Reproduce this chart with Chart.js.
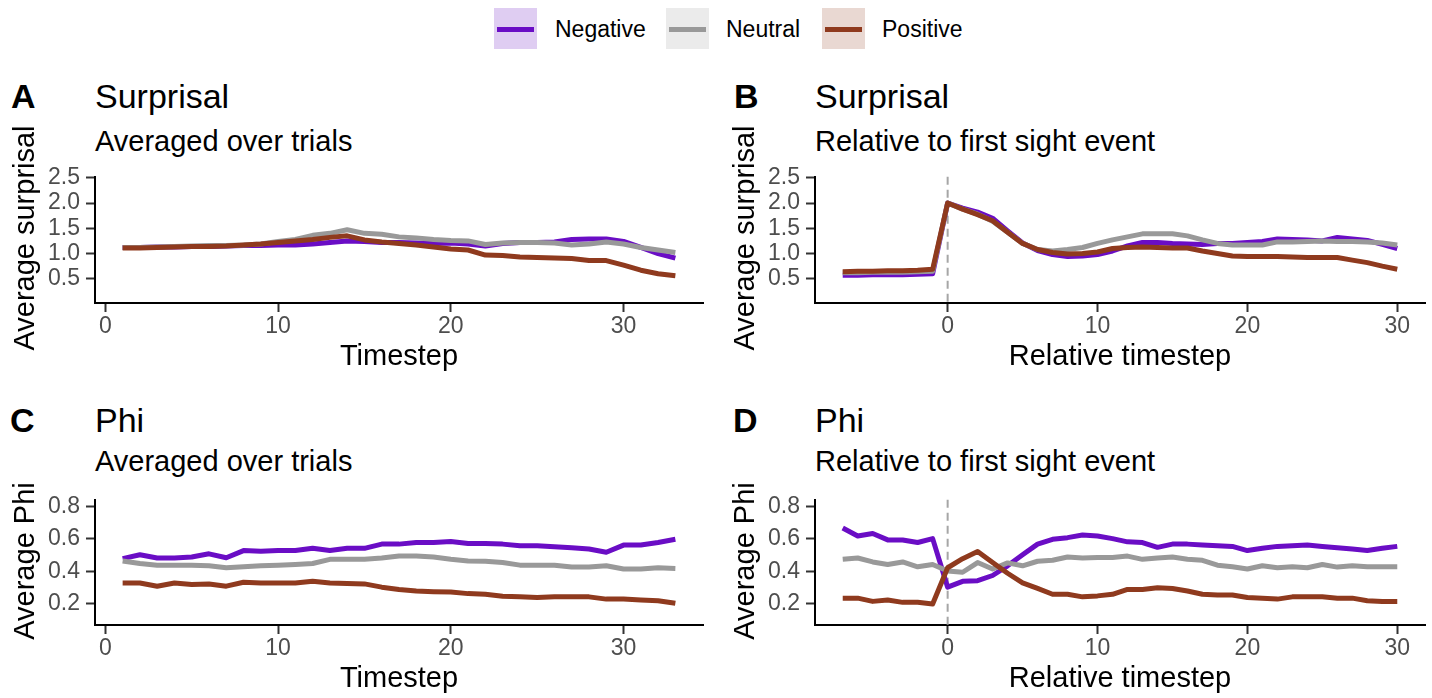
<!DOCTYPE html>
<html>
<head>
<meta charset="utf-8">
<script src="https://cdn.jsdelivr.net/npm/chart.js@4"></script>
<style>
  body { margin: 0; background: #fff; font-family: 'Liberation Sans', Arial, sans-serif; }
  #page { position: relative; width: 1432px; height: 698px; overflow: hidden; }
  .txt { position: absolute; white-space: nowrap; color: #000; }
  .tag { font-size: 34px; font-weight: bold; line-height: 34px; }
  .title { font-size: 34px; line-height: 34px; }
  .sub { font-size: 29px; line-height: 29px; }
  .lab { font-size: 23px; line-height: 23px; }
  .ytitle { font-size: 29px; line-height: 29px; transform: translate(-50%, -50%) rotate(-90deg); }
  .key { position: absolute; top: 8px; width: 43px; height: 41px; }
  .key span { position: absolute; left: 3px; right: 3px; top: 19px; height: 5px; }
  canvas { position: absolute; }
</style>
</head>
<body>
<div id="page">
  <!-- shared legend -->
  <div class="key" style="left:494px;background:#dfcdf2"><span style="background:#6a0dc5"></span></div>
  <div class="txt lab" style="left:555px;top:18px">Negative</div>
  <div class="key" style="left:666px;background:#ebebeb"><span style="background:#999999"></span></div>
  <div class="txt lab" style="left:726px;top:18px">Neutral</div>
  <div class="key" style="left:822px;background:#e9d8d2"><span style="background:#8f3a1e"></span></div>
  <div class="txt lab" style="left:882px;top:18px">Positive</div>

  <div class="txt tag" style="left:11px;top:79px">A</div>
  <div class="txt title" style="left:95px;top:79px">Surprisal</div>
  <div class="txt sub" style="left:95px;top:127px">Averaged over trials</div>

  <div class="txt tag" style="left:734px;top:79px">B</div>
  <div class="txt title" style="left:815px;top:79px">Surprisal</div>
  <div class="txt sub" style="left:815px;top:127px">Relative to first sight event</div>

  <div class="txt tag" style="left:10px;top:403px">C</div>
  <div class="txt title" style="left:95px;top:403px">Phi</div>
  <div class="txt sub" style="left:95px;top:447px">Averaged over trials</div>

  <div class="txt tag" style="left:733px;top:403px">D</div>
  <div class="txt title" style="left:815px;top:403px">Phi</div>
  <div class="txt sub" style="left:815px;top:447px">Relative to first sight event</div>

  <canvas id="chartA" width="716" height="218" style="left:0;top:157px"></canvas>
  <canvas id="chartB" width="712" height="218" style="left:720px;top:157px"></canvas>
  <canvas id="chartC" width="716" height="217" style="left:0;top:480px"></canvas>
  <canvas id="chartD" width="712" height="217" style="left:720px;top:480px"></canvas>

  <!-- y axis titles sit over the canvases so they are not cut to the plot height -->
  <div class="txt ytitle" style="left:24px;top:238px">Average surprisal</div>
  <div class="txt ytitle" style="left:744px;top:238px">Average surprisal</div>
  <div class="txt ytitle" style="left:24px;top:561px">Average Phi</div>
  <div class="txt ytitle" style="left:744px;top:561px">Average Phi</div>
</div>

<script>
'use strict';

// x values
let timesteps = [1, 2, 3, 4, 5, 6, 7, 8, 9, 10, 11, 12, 13, 14, 15, 16, 17, 18, 19, 20, 21, 22, 23, 24, 25, 26, 27, 28, 29, 30, 31, 32, 33];
let relTimesteps = [-7, -6, -5, -4, -3, -2, -1, 0, 1, 2, 3, 4, 5, 6, 7, 8, 9, 10, 11, 12, 13, 14, 15, 16, 17, 18, 19, 20, 21, 22, 23, 24, 25, 26, 27, 28, 29, 30];

// tick labels
let xTicks = [0, 10, 20, 30];
let surprisalTicks = [0.5, 1.0, 1.5, 2.0, 2.5];
let phiTicks = [0.2, 0.4, 0.6, 0.8];
let firstSight = 0;

// A - surprisal averaged over trials
let surpNeg = [1.12, 1.12, 1.13, 1.13, 1.14, 1.14, 1.15, 1.16, 1.16, 1.17, 1.17, 1.19, 1.22, 1.25, 1.24, 1.22, 1.22, 1.21, 1.20, 1.21, 1.19, 1.15, 1.20, 1.22, 1.22, 1.23, 1.28, 1.29, 1.29, 1.24, 1.12, 1.00, 0.91];
let surpNeu = [1.12, 1.12, 1.13, 1.14, 1.15, 1.16, 1.16, 1.17, 1.19, 1.24, 1.28, 1.36, 1.40, 1.47, 1.40, 1.38, 1.33, 1.31, 1.28, 1.26, 1.25, 1.18, 1.21, 1.22, 1.22, 1.21, 1.17, 1.19, 1.23, 1.19, 1.12, 1.07, 1.02];
let surpPos = [1.11, 1.11, 1.12, 1.13, 1.14, 1.14, 1.15, 1.17, 1.19, 1.22, 1.25, 1.28, 1.32, 1.35, 1.27, 1.23, 1.20, 1.17, 1.13, 1.09, 1.07, 0.97, 0.96, 0.93, 0.92, 0.91, 0.90, 0.86, 0.86, 0.77, 0.67, 0.60, 0.56];

// B - surprisal relative to first sight
let relSurpNeg = [0.57, 0.57, 0.58, 0.58, 0.58, 0.59, 0.60, 2.00, 1.90, 1.82, 1.70, 1.45, 1.21, 1.06, 0.98, 0.94, 0.95, 0.98, 1.05, 1.15, 1.22, 1.22, 1.20, 1.19, 1.18, 1.20, 1.20, 1.22, 1.24, 1.29, 1.28, 1.27, 1.25, 1.32, 1.29, 1.26, 1.18, 1.10];
let relSurpNeu = [0.62, 0.62, 0.63, 0.63, 0.63, 0.64, 0.65, 2.00, 1.88, 1.78, 1.64, 1.42, 1.20, 1.08, 1.05, 1.08, 1.12, 1.20, 1.27, 1.33, 1.39, 1.39, 1.39, 1.35, 1.27, 1.20, 1.17, 1.17, 1.17, 1.23, 1.23, 1.24, 1.25, 1.24, 1.24, 1.23, 1.21, 1.17];
let relSurpPos = [0.64, 0.65, 0.65, 0.66, 0.66, 0.67, 0.69, 2.00, 1.88, 1.77, 1.65, 1.42, 1.20, 1.08, 1.02, 0.99, 1.00, 1.03, 1.10, 1.12, 1.13, 1.12, 1.11, 1.11, 1.05, 1.00, 0.95, 0.94, 0.94, 0.94, 0.93, 0.92, 0.92, 0.92, 0.87, 0.82, 0.75, 0.69];

// C - phi averaged over trials
let phiNeg = [0.478, 0.502, 0.482, 0.482, 0.488, 0.508, 0.484, 0.528, 0.524, 0.528, 0.528, 0.542, 0.528, 0.542, 0.542, 0.568, 0.568, 0.578, 0.578, 0.584, 0.572, 0.572, 0.568, 0.558, 0.558, 0.552, 0.545, 0.538, 0.518, 0.562, 0.562, 0.578, 0.598];
let phiNeu = [0.464, 0.448, 0.438, 0.438, 0.438, 0.434, 0.422, 0.428, 0.434, 0.438, 0.442, 0.448, 0.474, 0.474, 0.474, 0.482, 0.494, 0.494, 0.488, 0.474, 0.464, 0.462, 0.454, 0.438, 0.438, 0.438, 0.426, 0.426, 0.434, 0.414, 0.414, 0.422, 0.418];
let phiPos = [0.328, 0.328, 0.308, 0.328, 0.318, 0.322, 0.308, 0.332, 0.328, 0.328, 0.328, 0.338, 0.328, 0.324, 0.322, 0.302, 0.288, 0.278, 0.274, 0.272, 0.262, 0.258, 0.246, 0.242, 0.238, 0.242, 0.242, 0.242, 0.228, 0.228, 0.222, 0.218, 0.202];

// D - phi relative to first sight
let relPhiNeg = [0.668, 0.618, 0.634, 0.594, 0.594, 0.578, 0.602, 0.302, 0.338, 0.342, 0.374, 0.434, 0.502, 0.568, 0.598, 0.608, 0.624, 0.618, 0.602, 0.582, 0.578, 0.548, 0.568, 0.568, 0.562, 0.558, 0.554, 0.528, 0.542, 0.554, 0.558, 0.562, 0.554, 0.546, 0.538, 0.528, 0.542, 0.554];
let relPhiNeu = [0.474, 0.482, 0.458, 0.442, 0.458, 0.428, 0.442, 0.402, 0.394, 0.454, 0.414, 0.452, 0.434, 0.462, 0.468, 0.488, 0.482, 0.486, 0.486, 0.494, 0.474, 0.482, 0.488, 0.474, 0.468, 0.438, 0.428, 0.414, 0.434, 0.422, 0.428, 0.422, 0.442, 0.426, 0.434, 0.428, 0.428, 0.428];
let relPhiPos = [0.234, 0.234, 0.214, 0.222, 0.208, 0.208, 0.198, 0.422, 0.478, 0.522, 0.454, 0.388, 0.328, 0.294, 0.258, 0.258, 0.242, 0.248, 0.258, 0.288, 0.288, 0.298, 0.294, 0.278, 0.258, 0.254, 0.254, 0.238, 0.234, 0.228, 0.242, 0.242, 0.242, 0.234, 0.234, 0.218, 0.214, 0.214];

let colNeg = '#6a0dc5';
let colNeu = '#999999';
let colPos = '#8f3a1e';

Chart.defaults.font.family = "'Liberation Sans', Arial, sans-serif";

// dashed line at the first sight event
const eventLine = {
  id: 'eventLine',
  beforeDatasetsDraw(chart, args, opts) {
    if (!opts.show) return;
    let ctx = chart.ctx;
    let area = chart.chartArea;
    let x = chart.scales.x.getPixelForValue(firstSight);
    ctx.save();
    ctx.strokeStyle = '#a6a6a6';
    ctx.lineWidth = 2;
    ctx.setLineDash([8, 5]);
    ctx.beginPath();
    ctx.moveTo(x, area.top);
    ctx.lineTo(x, area.bottom);
    ctx.stroke();
    ctx.restore();
  }
};

function series(label, xs, ys, color, order) {
  return {
    label: label,
    data: xs.map((x, i) => ({x: x, y: ys[i]})),
    borderColor: color,
    backgroundColor: color,
    borderWidth: 5,
    pointRadius: 0,
    tension: 0,
    borderJoinStyle: 'round',
    borderCapStyle: 'butt',
    order: order
  };
}

function renderPanel(id, xs, neg, neu, pos, opts) {
  let ctx = document.getElementById(id).getContext('2d');
  new Chart(ctx, {
    type: 'line',
    data: {
      datasets: [
        series('Negative', xs, neg, colNeg, 2),
        series('Neutral', xs, neu, colNeu, 1),
        series('Positive', xs, pos, colPos, 0)
      ]
    },
    options: {
      responsive: false,
      animation: false,
      devicePixelRatio: 1,
      layout: { padding: { top: 16, right: opts.padRight, left: 0, bottom: 0 } },
      plugins: {
        legend: { display: false },
        tooltip: { enabled: false },
        eventLine: { show: opts.event }
      },
      scales: {
        x: {
          type: 'linear',
          min: opts.xMin,
          max: opts.xMax,
          afterFit(scale) { scale.height = 72; },
          afterBuildTicks(scale) { scale.ticks = xTicks.map(v => ({value: v})); },
          ticks: { color: '#4d4d4d', font: { size: 23 }, padding: 1, maxRotation: 0 },
          grid: { drawOnChartArea: false, drawTicks: true, tickLength: 9, tickColor: '#333333', tickWidth: 2 },
          border: { display: true, color: '#000', width: 2 },
          title: { display: true, text: opts.xTitle, color: '#000', font: { size: 29 }, padding: { top: 0, bottom: 1 } }
        },
        y: {
          min: opts.yMin,
          max: opts.yMax,
          afterFit(scale) { scale.width = 95; },
          afterBuildTicks(scale) { scale.ticks = opts.yTicks.map(v => ({value: v})); },
          ticks: { color: '#4d4d4d', font: { size: 23 }, padding: 6, callback: v => v.toFixed(1) },
          grid: { drawOnChartArea: false, drawTicks: true, tickLength: 9, tickColor: '#333333', tickWidth: 2 },
          border: { display: true, color: '#000', width: 2 },
          // drawn as page text instead, see the .ytitle divs
          title: { display: false }
        }
      }
    },
    plugins: [eventLine]
  });
}

renderPanel('chartA', timesteps, surpNeg, surpNeu, surpPos, {
  xMin: -0.6, xMax: 34.6, yMin: 0.02, yMax: 2.52, yTicks: surprisalTicks,
  xTitle: 'Timestep', padRight: 13, event: false
});
renderPanel('chartB', relTimesteps, relSurpNeg, relSurpNeu, relSurpPos, {
  xMin: -8.85, xMax: 31.85, yMin: 0.02, yMax: 2.52, yTicks: surprisalTicks,
  xTitle: 'Relative timestep', padRight: 7, event: true
});
renderPanel('chartC', timesteps, phiNeg, phiNeu, phiPos, {
  xMin: -0.6, xMax: 34.6, yMin: 0.068, yMax: 0.842, yTicks: phiTicks,
  xTitle: 'Timestep', padRight: 13, event: false
});
renderPanel('chartD', relTimesteps, relPhiNeg, relPhiNeu, relPhiPos, {
  xMin: -8.85, xMax: 31.85, yMin: 0.068, yMax: 0.842, yTicks: phiTicks,
  xTitle: 'Relative timestep', padRight: 7, event: true
});
</script>
</body>
</html>
